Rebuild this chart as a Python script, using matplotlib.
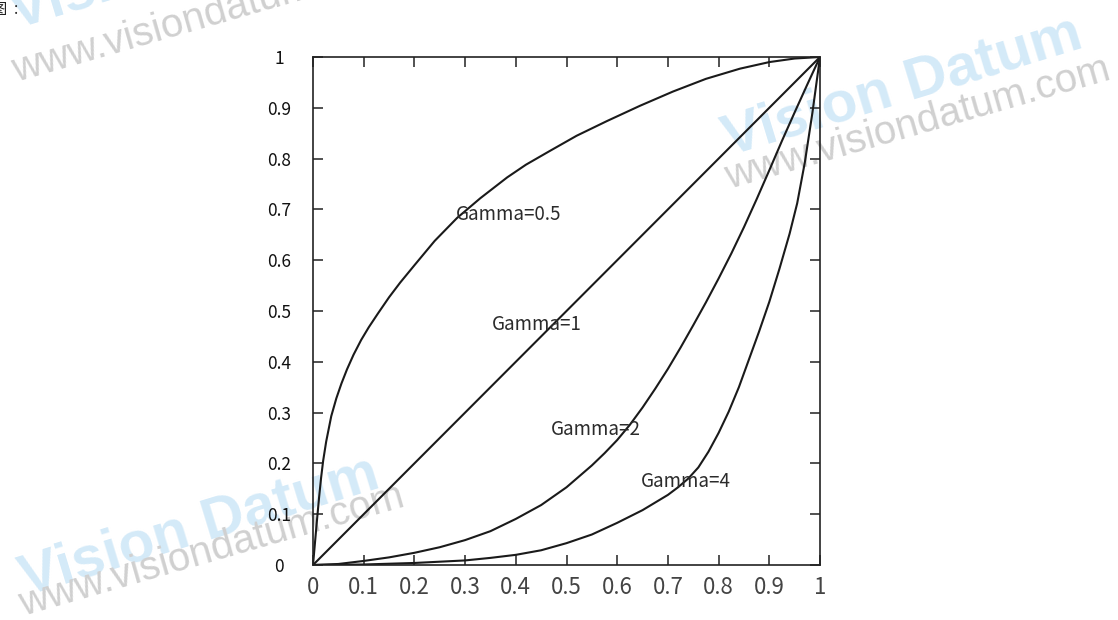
import numpy as np
import matplotlib
matplotlib.use("Agg")
import matplotlib.pyplot as plt

plt.rcParams['font.family'] = ['Noto Sans CJK SC', 'DejaVu Sans']

# curves (input, output)
gamma05_x = [0, 0.004, 0.008, 0.012, 0.016, 0.02, 0.026, 0.036, 0.046, 0.056, 0.067, 0.08,
             0.095, 0.11, 0.128, 0.15, 0.172, 0.2, 0.24, 0.284, 0.33, 0.383, 0.42, 0.467,
             0.52, 0.58, 0.645, 0.71, 0.775, 0.842, 0.9, 0.95, 1.0]
gamma05_y = [0, 0.045, 0.09, 0.133, 0.172, 0.205, 0.243, 0.293, 0.328, 0.357, 0.385, 0.414,
             0.443, 0.468, 0.495, 0.527, 0.556, 0.59, 0.638, 0.683, 0.722, 0.763, 0.788, 0.815,
             0.845, 0.874, 0.904, 0.932, 0.957, 0.977, 0.99, 0.997, 1.0]

gamma1_x = [0, 1.0]
gamma1_y = [0, 1.0]

gamma2_x = [0, 0.05, 0.1, 0.15, 0.2, 0.25, 0.3, 0.35, 0.4, 0.45, 0.5, 0.55, 0.575, 0.6,
            0.625, 0.65, 0.675, 0.7, 0.725, 0.75, 0.775, 0.8, 0.825, 0.85, 0.875, 0.9,
            0.925, 0.95, 0.975, 1.0]
gamma2_y = [0, 0.002, 0.008, 0.015, 0.024, 0.035, 0.049, 0.0666, 0.0907, 0.118, 0.153, 0.196,
            0.22, 0.246, 0.276, 0.31, 0.347, 0.386, 0.428, 0.472, 0.517, 0.564, 0.613, 0.665,
            0.72, 0.777, 0.835, 0.891, 0.946, 1.0]

gamma4_x = [0, 0.1, 0.2, 0.3, 0.35, 0.4, 0.45, 0.5, 0.55, 0.6, 0.65, 0.7, 0.72, 0.74, 0.76,
            0.78, 0.8, 0.82, 0.84, 0.86, 0.88, 0.9, 0.92, 0.94, 0.955, 0.97, 0.985, 1.0]
gamma4_y = [0, 0.001, 0.004, 0.009, 0.014, 0.020, 0.029, 0.043, 0.060, 0.083, 0.108, 0.138,
            0.153, 0.170, 0.192, 0.223, 0.26, 0.302, 0.35, 0.405, 0.46, 0.518, 0.583, 0.652,
            0.712, 0.792, 0.89, 1.0]

curve_labels = ['Gamma=0.5', 'Gamma=1', 'Gamma=2', 'Gamma=4']
label_x = [0.282, 0.353, 0.469, 0.647]
label_y = [0.689, 0.474, 0.266, 0.165]

tick_values = [0, 0.1, 0.2, 0.3, 0.4, 0.5, 0.6, 0.7, 0.8, 0.9, 1]
tick_labels = ['0', '0.1', '0.2', '0.3', '0.4', '0.5', '0.6', '0.7', '0.8', '0.9', '1']

W, H = 1118, 620
fig = plt.figure(figsize=(W / 100, H / 100), dpi=100)
ax = fig.add_axes([313 / W, 1 - 565 / H, 507 / W, 508 / H])
ax.patch.set_alpha(0)

line_color = '#1a1a1a'
for xs, ys in [(gamma05_x, gamma05_y), (gamma1_x, gamma1_y),
               (gamma2_x, gamma2_y), (gamma4_x, gamma4_y)]:
    ax.plot(xs, ys, color=line_color, lw=1.5, solid_joinstyle='round')

for txt, lx, ly in zip(curve_labels, label_x, label_y):
    ax.text(lx, ly, txt, fontsize=13.5, color='#2b2b2b', ha='left', va='center')

ax.set_xlim(0, 1)
ax.set_ylim(0, 1)
ax.set_xticks(tick_values)
ax.set_xticklabels(tick_labels, fontsize=16, color='#444444', fontweight='light')
ax.set_yticks(tick_values)
ax.set_yticklabels(tick_labels, fontsize=12.5, color='#111111')
for lab in ax.get_yticklabels():
    lab.set_horizontalalignment('center')

ax.tick_params(axis='both', which='both', direction='in', top=True, right=True,
               length=7.5, width=1.1, color='#222222')
ax.tick_params(axis='y', pad=24.5)
ax.tick_params(axis='x', pad=8)
for sp in ax.spines.values():
    sp.set_linewidth(1.2)
    sp.set_color('#222222')


# watermarks (behind the axes)
def watermark(bx, by, gx, gy):
    fig.text(bx / W, 1 - by / H, 'Vision Datum', fontsize=42, fontweight='bold',
             color='#d4eaf8', rotation=17, ha='center', va='center',
             family='Liberation Sans', zorder=-5)
    fig.text(gx / W, 1 - gy / H, 'www.visiondatum.com', fontsize=29,
             color='#d0d0d0', rotation=16, ha='center', va='center',
             family='Liberation Sans', zorder=-5)


watermark(903, 87, 918, 123)
watermark(200, 527, 212, 550)
watermark(190, -40, 205, 16)

fig.text(-0.007, 0.998, '图  :', fontsize=11, color='#222222', ha='left', va='top')

fig.savefig('out.png', dpi=100)
